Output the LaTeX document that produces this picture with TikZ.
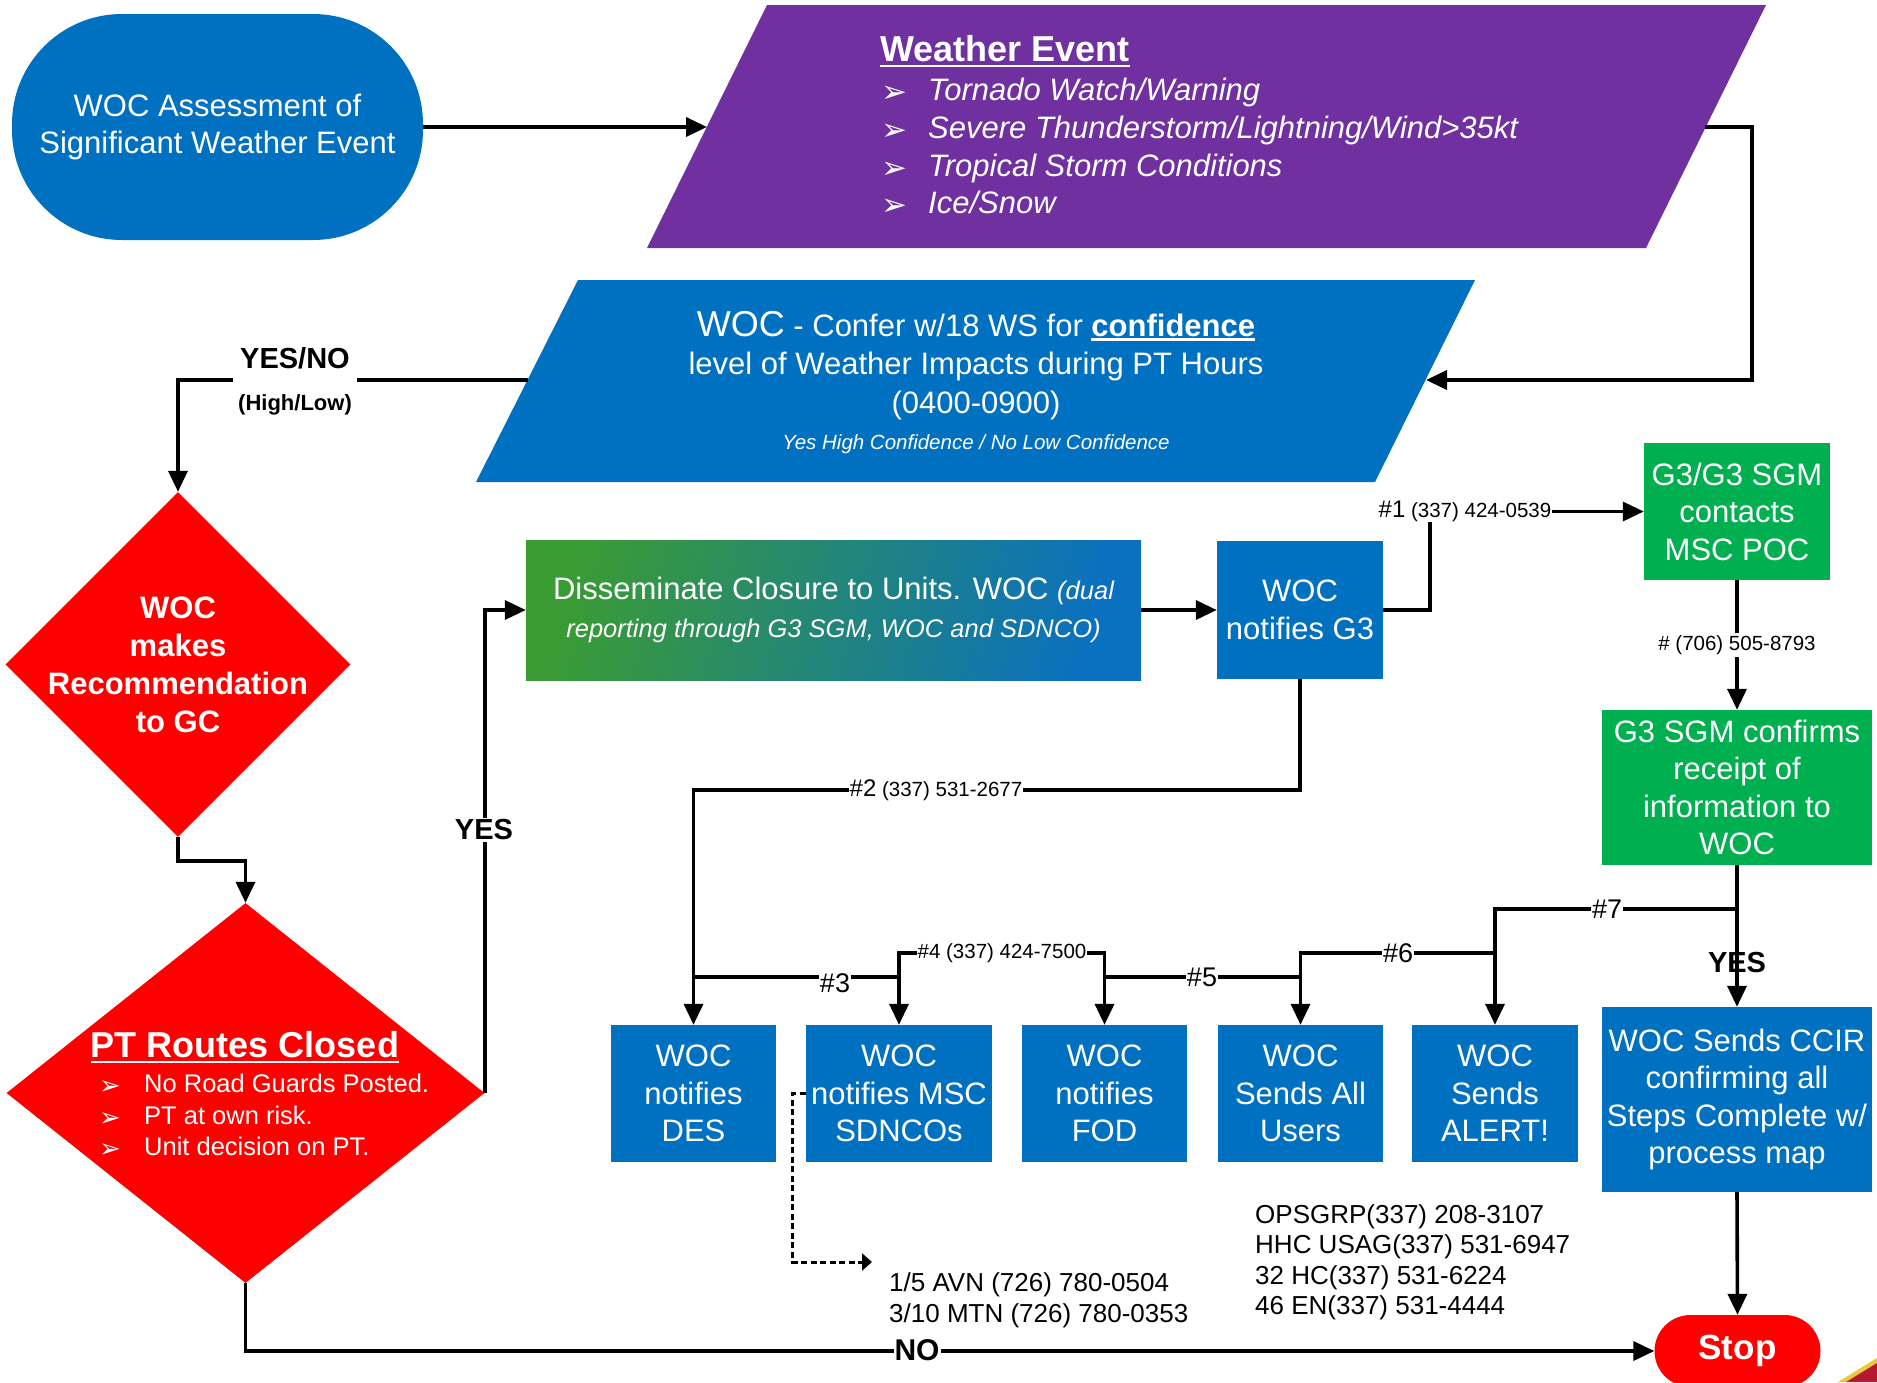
\documentclass[tikz,border=0pt]{standalone}
\usepackage{fontspec}
\setmainfont{Liberation Sans}
\newfontfamily\symfont{DejaVu Sans}
\usetikzlibrary{arrows.meta,shapes.geometric}
\definecolor{wocblue}{HTML}{0070C0}
\definecolor{wocgreen}{HTML}{00B050}
\definecolor{wocpurple}{HTML}{7030A0}
\definecolor{wocred}{HTML}{FF0000}
\definecolor{gradgreen}{RGB}{58,155,53}
\definecolor{gradblue}{RGB}{10,112,192}
\definecolor{badgered}{RGB}{180,25,45}
\definecolor{badgegold}{RGB}{235,200,60}
\newcommand\fsz[2]{\fontsize{#1}{#2}\selectfont}
\newcommand\wxbullet[2]{\makebox[#1][l]{\upshape\symfont\fsz{#2}{#2}\raisebox{-0.06em}{➢}}}
% underline drawn as a rule that does not change the line's size
\newsavebox\ulsave
\newcommand\ulbox[2][5.5pt]{\sbox\ulsave{#2}\rlap{\smash{\rule[-#1]{\wd\ulsave}{2.6pt}}}\usebox\ulsave}
\begin{document}
\begin{tikzpicture}[x=1pt,y=-1pt,
  conn/.style={line width=3.6pt,draw=black},
  arr/.style={conn,-{Triangle[length=21pt,width=19pt]}},
  boxtext/.style={rectangle,text=white,inner sep=0pt,align=center,font=\fsz{31}{37.5}},
  box/.style={boxtext,fill=wocblue},
  gbox/.style={boxtext,fill=wocgreen},
  lbl/.style={fill=white,inner sep=2pt,text=black,align=center},
  hashlbl/.style={lbl,font=\fsz{27}{30}},
  phone/.style={lbl,font=\fsz{20.5}{24}}]
\useasboundingbox (0,0) rectangle (1877,1382);

% ---- start terminator
\node[box,rounded corners=110pt,minimum width=411pt,minimum height=226pt] (start) at (217.5,127)
  {WOC Assessment of\\Significant Weather Event};

% ---- weather event (parallelogram)
\fill[wocpurple] (767,5) -- (1766,5) -- (1646,248) -- (647,248) -- cycle;
\coordinate (wx-in) at (707,127);
\coordinate (wx-out) at (1705,127);
\node[anchor=west,text=white,inner sep=0pt,font=\fsz{36}{40}\bfseries] (wx-title) at (880,49) {\ulbox{Weather Event}};
\node[anchor=west,text=white,inner sep=0pt,align=left,font=\fsz{31}{37.7}\itshape] (wx-list) at (881,147)
  {\wxbullet{47pt}{31}Tornado Watch/Warning\\
   \wxbullet{47pt}{31}Severe Thunderstorm/Lightning/Wind>35kt\\
   \wxbullet{47pt}{31}Tropical Storm Conditions\\
   \wxbullet{47pt}{31}Ice/Snow};

% ---- confidence check (parallelogram)
\fill[wocblue] (578,280) -- (1475,280) -- (1375,482) -- (476,482) -- cycle;
\coordinate (cf-in) at (1426,380);
\coordinate (cf-out) at (527.5,380);
\coordinate (loop-r) at (1752,127);
\node[text=white,inner sep=0pt,align=center,font=\fsz{31}{38.5}] (cf-text) at (976,382.5)
  {{\fsz{36}{38.5}WOC} - Confer w/18 WS for \textbf{\ulbox[4.5pt]{confidence}}\\
   level of Weather Impacts during PT Hours\\
   (0400-0900)\\[-2pt]
   {\fsz{20.5}{38.5}\itshape Yes High Confidence / No Low Confidence}};

% ---- decisions
\node[diamond,fill=wocred,minimum width=345pt,minimum height=345pt,inner sep=0pt] (d1) at (178,664.5) {};
\node[text=white,align=center,inner sep=0pt,font=\fsz{31}{38}\bfseries] (d1-text) at (d1.center)
  {WOC\\makes\\Recommendation\\to GC};
\node[diamond,fill=wocred,minimum width=478pt,minimum height=380pt,inner sep=0pt] (d2) at (245.5,1093) {};
\node[text=white,inner sep=0pt,font=\fsz{36}{40}\bfseries] (d2-title) at (245,1045) {\ulbox{PT Routes Closed}};
\node[anchor=west,text=white,inner sep=0pt,align=left,font=\fsz{25.5}{31.5}] (d2-list) at (99,1116)
  {\wxbullet{45pt}{26}No Road Guards Posted.\\
   \wxbullet{45pt}{26}PT at own risk.\\
   \wxbullet{45pt}{26}Unit decision on PT.};

% ---- process boxes
\node[boxtext,left color=gradgreen,right color=gradblue,shading angle=75,
      minimum width=615pt,minimum height=140pt] (dis) at (833.5,610)
  {Disseminate Closure to Units. WOC {\itshape\fsz{25.5}{38}(dual}\\
   {\itshape\fsz{25.5}{38}reporting through G3 SGM, WOC and SDNCO)}};
\node[box,minimum width=166pt,minimum height=138pt] (g3) at (1300,610) {WOC\\notifies G3};
\node[gbox,minimum width=186pt,minimum height=137pt] (sgm) at (1737,511.5) {G3/G3 SGM\\contacts\\MSC POC};
\node[gbox,minimum width=270pt,minimum height=155pt] (conf) at (1737,787.5)
  {G3 SGM confirms\\receipt of\\information to\\WOC};
\node[box,minimum width=270pt,minimum height=185pt] (ccir) at (1737,1099.5)
  {WOC Sends CCIR\\confirming all\\Steps Complete w/\\process map};
\node[box,minimum width=165pt,minimum height=137pt] (des) at (693.5,1093.5) {WOC\\notifies\\DES};
\node[box,minimum width=186pt,minimum height=137pt] (msc) at (899,1093.5) {WOC\\notifies MSC\\SDNCOs};
\node[box,minimum width=165pt,minimum height=137pt] (fod) at (1104.5,1093.5) {WOC\\notifies\\FOD};
\node[box,minimum width=165pt,minimum height=137pt] (usr) at (1300.5,1093.5) {WOC\\Sends All\\Users};
\node[box,minimum width=166pt,minimum height=137pt] (alr) at (1495,1093.5) {WOC\\Sends\\ALERT!};
\node[boxtext,fill=wocred,rounded corners=36pt,minimum width=166pt,minimum height=72pt,
      font=\fsz{35}{38}\bfseries] (stop) at (1737.5,1351) {Stop};

% ---- connectors
\draw[arr] (start.east) -- (wx-in);
\draw[arr] (wx-out) -- (loop-r) |- (cf-in);
\draw[arr] (cf-out) -| (d1.north);
\draw[arr] (d1.south) -- ++(0,24) -| (d2.north);
\draw[arr] (d2.east) |- (dis.west);
\draw[arr] (dis.east) -- (g3.west);
\draw[arr] (g3.east) -- ++(47,0) |- (sgm.west);
\draw[arr] (sgm.south) -- (conf.north);
\draw[arr] (conf.south) -- (ccir.north);
\draw[arr] (ccir.south) -- (stop.north);
\draw[arr] (g3.south) -- ++(0,111) -| (des.north);
\draw[arr] (d2.south) |- (stop.west);

% notification rails between the bottom boxes
\coordinate (r-lo) at (0,977);
\coordinate (r-hi) at (0,953);
\coordinate (r-top) at (0,909);
\draw[conn] (des.north |- r-lo) -- (msc.north |- r-lo) -- (msc.north |- r-hi)
  -- (fod.north |- r-hi) -- (fod.north |- r-lo) -- (usr.north |- r-lo)
  -- (usr.north |- r-hi) -- (alr.north |- r-hi) -- (alr.north |- r-top)
  -- (conf.south |- r-top);
\foreach \b/\r in {msc/r-hi,fod/r-hi,usr/r-hi,alr/r-top}
  \draw[arr] (\b.north |- \r) -- (\b.north);

% dashed hand-off to the MSC numbers
\coordinate (dash-end) at (872,1262);
\draw[line width=3pt,dash pattern=on 6pt off 3.5pt,-{Triangle[length=10pt,width=17pt]}]
  (msc.west) -- ++(-13,0) |- (dash-end);

% ---- connector labels
\node[lbl,inner xsep=5pt,font=\fsz{22}{42}\bfseries] (yn) at (295,381)
  {{\fsz{29}{42}YES/NO}\\(High/Low)};
\node[lbl,font=\fsz{29}{32}\bfseries] (yes1) at (484,830) {YES};
\node[text=black,inner sep=0pt,font=\fsz{29}{32}\bfseries] (yes2) at (1737,963) {YES};
\node[lbl,font=\fsz{30}{32}\bfseries,inner sep=1pt] (no) at (917,1350) {NO};
\node[phone,inner sep=1pt] (n1) at (1465,511) {{\fsz{24}{26}\#1} (337) 424-0539};
\node[phone,inner sep=1pt] (n2) at (936,790) {{\fsz{24}{26}\#2} (337) 531-2677};
\node[hashlbl,inner sep=1pt] (n3) at (835,983) {\#3};
\node[phone,inner sep=1pt] (n4) at (1002,953) {\#4 (337) 424-7500};
\node[hashlbl,inner sep=1pt] (n5) at (1202,977) {\#5};
\node[hashlbl,inner sep=1pt] (n6) at (1398,953) {\#6};
\node[hashlbl,inner sep=1pt] (n7) at (1607,909) {\#7};
\node[phone,inner sep=2pt] (n8) at (1737,645) {\# (706) 505-8793};

% ---- phone lists
\node[anchor=west,inner sep=0pt,align=left,font=\fsz{26}{31}] (avn) at (889,1300.5)
  {1/5 AVN (726) 780-0504\\3/10 MTN (726) 780-0353};
\node[anchor=west,inner sep=0pt,align=left,font=\fsz{26}{30.5}] (ops) at (1255,1262.5)
  {OPSGRP(337) 208-3107\\HHC USAG(337) 531-6947\\32 HC(337) 531-6224\\46 EN(337) 531-4444};

% ---- badge corner
\fill[badgegold] (1838,1382) -- (1877,1358) -- (1877,1363) -- (1846,1382) -- cycle;
\fill[badgered] (1846,1382) -- (1877,1363) -- (1877,1382) -- cycle;
\end{tikzpicture}
\end{document}
